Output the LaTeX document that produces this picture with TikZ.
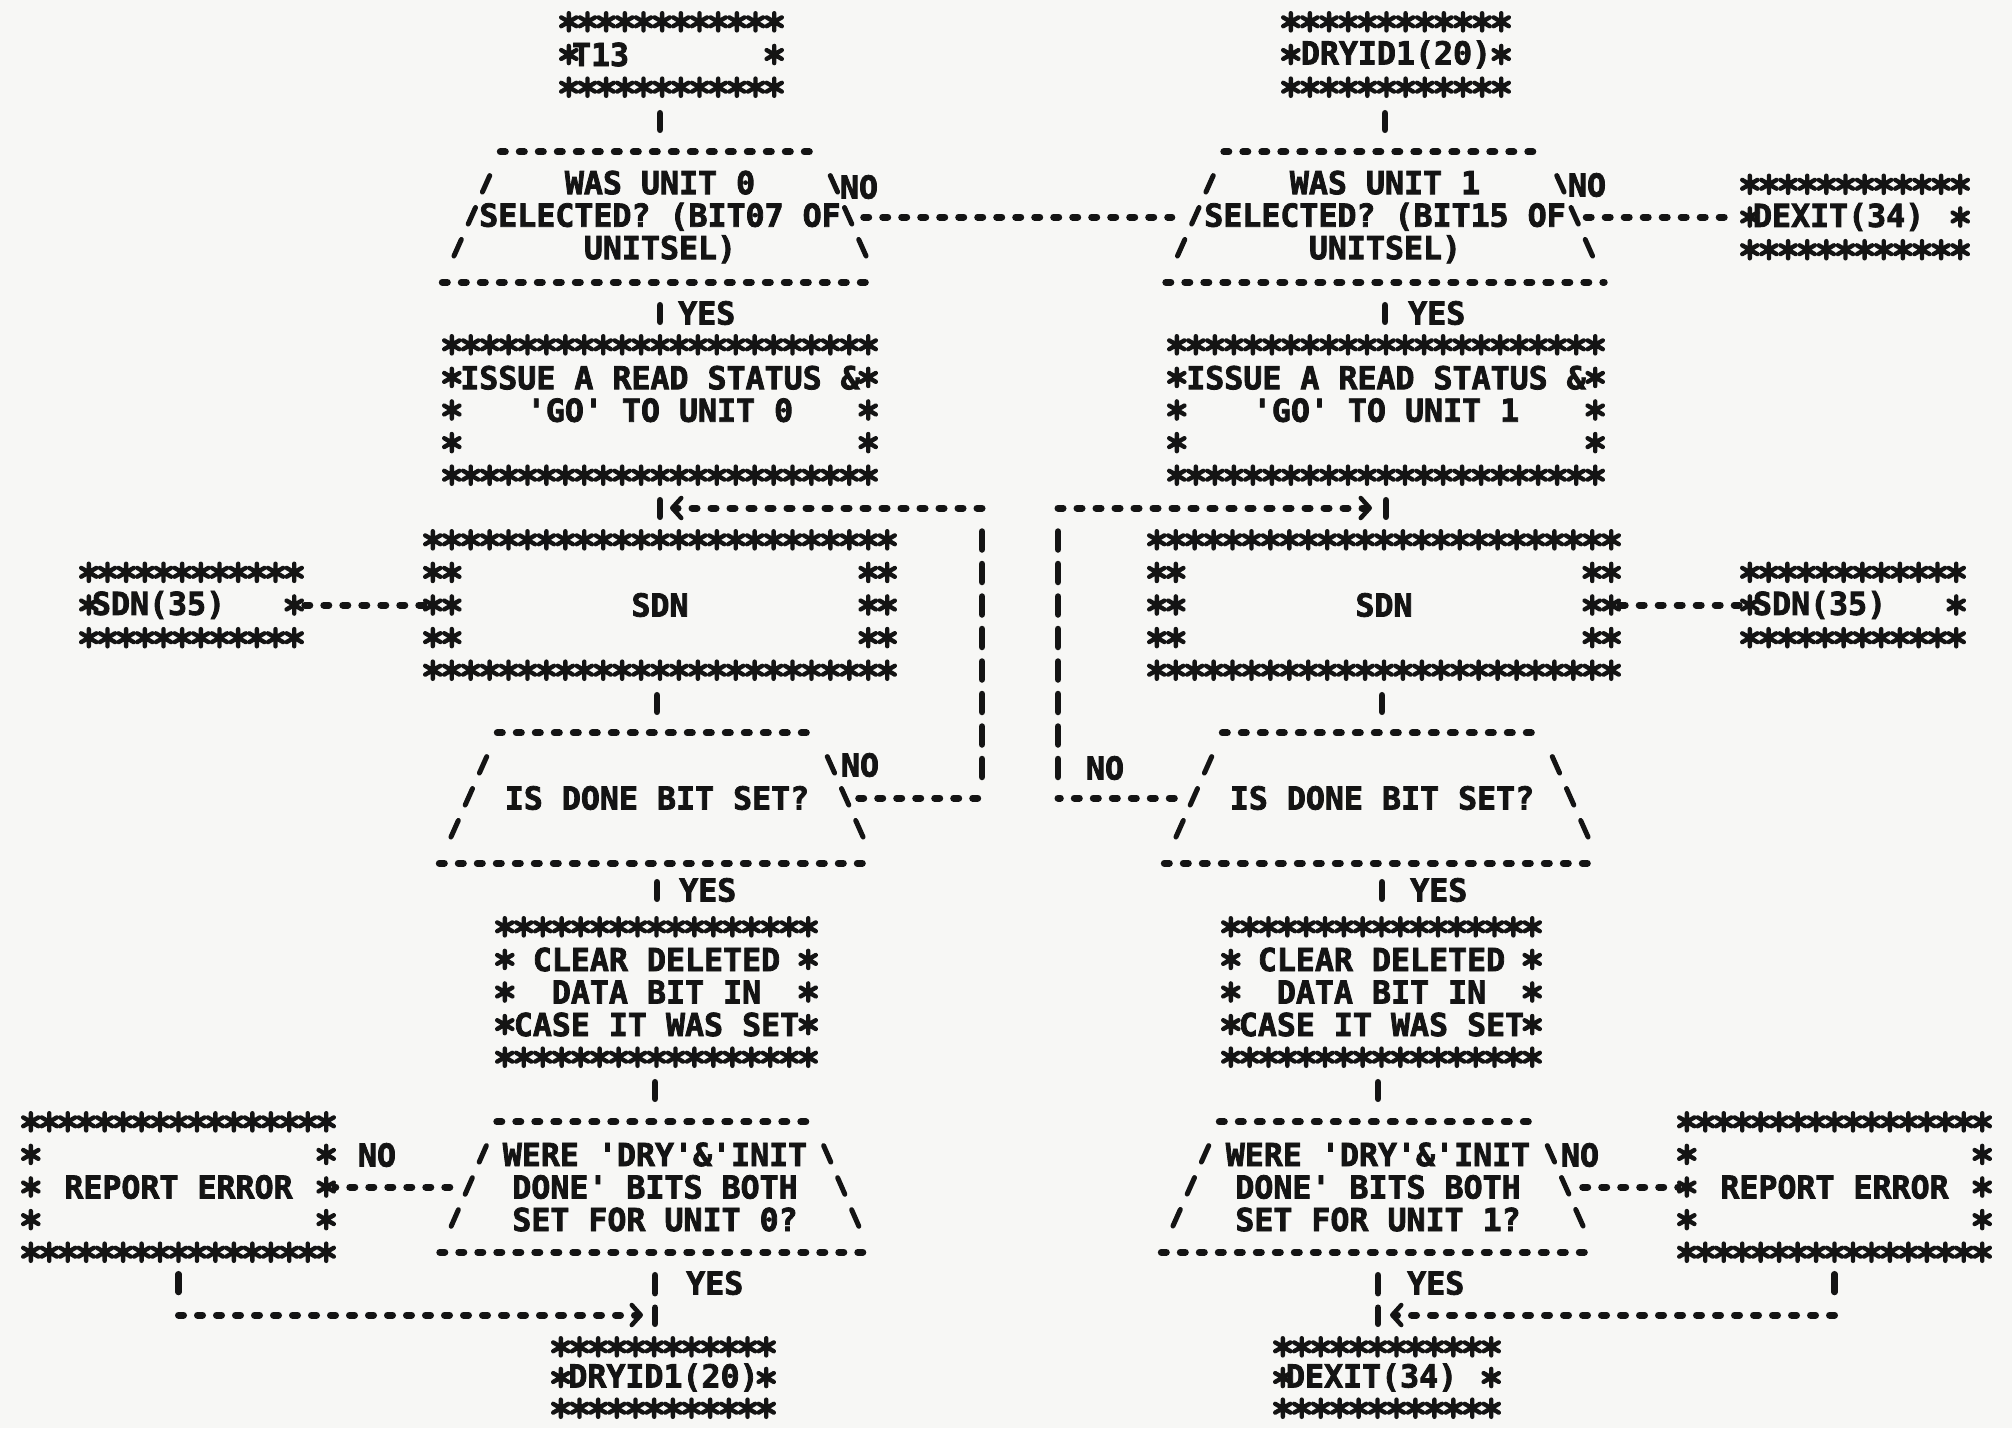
\documentclass[tikz,border=0pt]{standalone}
\usepackage{fontspec}
\setmonofont{DejaVu Sans Mono}[UprightFeatures={FakeBold=2.5}, BoldFeatures={FakeBold=2.5}]
\usetikzlibrary{calc,arrows.meta}
\definecolor{ink}{HTML}{141414}
\definecolor{paper}{HTML}{F7F7F5}
\tikzset{
  ast/.pic={\draw[ink, line width=4.4pt, line cap=round] (0,-8.6)--(0,8.6) (-7.6,-4.4)--(7.6,4.4) (-7.6,4.4)--(7.6,-4.4);},
  txt/.style={font=\fontsize{31.6}{32.5}\selectfont\ttfamily\bfseries, text=ink, inner sep=0pt},
  box/.style={txt, align=center},
  dec/.style={txt, align=center, minimum height=130pt},
  lbl/.style={txt},
  hd/.style={draw=ink, line width=7pt, line cap=round, dash pattern=on 5pt off 14pt},
  vd/.style={draw=ink, line width=6.5pt, line cap=round, dash pattern=on 18pt off 14.5pt},
  sl/.style={draw=ink, line width=5pt, line cap=round, dash pattern=on 18pt off 17pt, shorten <=26pt, shorten >=26pt},
  tip/.style={-{Straight Barb[length=9pt,width=20pt,line width=4.5pt,round]}},
}
\newcommand\astframe[4]{%
  \coordinate (#1-a) at ($(#1.north west)+(9,9)$);
  \coordinate (#1-b) at ($(#1.north east)+(-9,9)$);
  \coordinate (#1-c) at ($(#1.south west)+(9,-9)$);
  \coordinate (#1-d) at ($(#1.south east)+(-9,-9)$);
  \pgfmathtruncatemacro\astn{#2-1}%
  \pgfmathtruncatemacro\astr{#3-1}%
  \pgfmathtruncatemacro\astrr{#3-2}%
  \foreach \k in {0,...,\astn}{%
    \pic at ($(#1-a)!\k/\astn!(#1-b)$) {ast};
    \pic at ($(#1-c)!\k/\astn!(#1-d)$) {ast};
  }%
  \foreach \k in {1,...,\astrr}{%
    \pic at ($(#1-a)!\k/\astr!(#1-c)$) {ast};
    \pic at ($(#1-b)!\k/\astr!(#1-d)$) {ast};
    \ifnum#4=1
      \pic at ($(#1-a)!\k/\astr!(#1-c)+(19,0)$) {ast};
      \pic at ($(#1-b)!\k/\astr!(#1-d)+(-19,0)$) {ast};
    \fi
  }%
}
\newcommand\decframe[2]{%
  \draw[hd] ($(#1.north west)+(#2,0)$) -- ($(#1.north east)+(-#2,0)$);
  \draw[hd] (#1.south west) -- (#1.south east);
  \draw[sl] ($(#1.north west)+(#2,0)$) -- (#1.south west);
  \draw[sl] ($(#1.north east)+(-#2,0)$) -- (#1.south east);
}
\begin{document}
\begin{tikzpicture}[x=1pt,y=-1pt]
\fill[paper] (0,0) rectangle (2012,1428);
\useasboundingbox (0,0) rectangle (2012,1428);

% ---------- left column ----------
\node[box, minimum width=223pt, minimum height=83pt, text width=199pt, align=left] (t13) at (671.5,54.5) {T13};
\node[dec, minimum width=435pt] (d1) at (660,217) {WAS UNIT 0\\SELECTED? (BIT07 OF\\UNITSEL)};
\node[box, minimum width=434pt, minimum height=148pt] (iss1) at (660,410) {ISSUE A READ STATUS \&\\'GO' TO UNIT 0\\\mbox{}};
\node[box, minimum width=472pt, minimum height=148pt] (sdn1) at (660,605) {SDN};
\node[box, minimum width=223pt, minimum height=83pt, text width=199pt, align=left] (sdnL) at (191.5,605) {SDN(35)};
\node[dec, minimum width=435pt] (d3) at (657,798) {IS DONE BIT SET?};
\node[box, minimum width=321pt, minimum height=148pt] (clr1) at (656.5,992) {CLEAR DELETED\\DATA BIT IN\\CASE IT WAS SET};
\node[dec, minimum width=430pt] (d5) at (655,1187) {WERE 'DRY'\&'INIT\\DONE' BITS BOTH\\SET FOR UNIT 0?};
\node[box, minimum width=313pt, minimum height=148pt] (rep1) at (178.5,1187) {REPORT ERROR};
\node[box, minimum width=223pt, minimum height=79pt] (dry2) at (663.5,1377.5) {DRYID1(20)};

% ---------- right column ----------
\node[box, minimum width=228pt, minimum height=83pt] (dry1) at (1396,54.5) {DRYID1(20)};
\node[dec, minimum width=438pt] (d2) at (1385,217) {WAS UNIT 1\\SELECTED? (BIT15 OF\\UNITSEL)};
\node[box, minimum width=228pt, minimum height=83pt, text width=204pt, align=left] (dex1) at (1855,217) {DEXIT(34)};
\node[box, minimum width=436pt, minimum height=148pt] (iss2) at (1386,410) {ISSUE A READ STATUS \&\\'GO' TO UNIT 1\\\mbox{}};
\node[box, minimum width=472pt, minimum height=148pt] (sdn2) at (1384,605) {SDN};
\node[box, minimum width=224pt, minimum height=83pt, text width=200pt, align=left] (sdnR) at (1853,605) {SDN(35)};
\node[dec, minimum width=435pt] (d4) at (1382,798) {IS DONE BIT SET?};
\node[box, minimum width=319pt, minimum height=148pt] (clr2) at (1381.5,992) {CLEAR DELETED\\DATA BIT IN\\CASE IT WAS SET};
\node[dec, minimum width=433pt] (d6) at (1378,1187) {WERE 'DRY'\&'INIT\\DONE' BITS BOTH\\SET FOR UNIT 1?};
\node[box, minimum width=313pt, minimum height=148pt] (rep2) at (1834.5,1187) {REPORT ERROR};
\node[box, minimum width=226pt, minimum height=79pt, text width=202pt, align=left] (dex2) at (1387,1377.5) {DEXIT(34)};

% ---------- frames ----------
\astframe{t13}{12}{3}{0}
\astframe{iss1}{23}{5}{0}
\astframe{sdn1}{25}{5}{1}
\astframe{sdnL}{12}{3}{0}
\astframe{clr1}{17}{5}{0}
\astframe{rep1}{17}{5}{0}
\astframe{dry2}{12}{3}{0}
\astframe{dry1}{12}{3}{0}
\astframe{dex1}{12}{3}{0}
\astframe{iss2}{23}{5}{0}
\astframe{sdn2}{25}{5}{1}
\astframe{sdnR}{12}{3}{0}
\astframe{clr2}{17}{5}{0}
\astframe{rep2}{17}{5}{0}
\astframe{dex2}{12}{3}{0}
\decframe{d1}{58}
\decframe{d2}{58}
\decframe{d3}{58}
\decframe{d4}{58}
\decframe{d5}{57}
\decframe{d6}{58}

% ---------- labels ----------
\node[lbl] (no1) at (859,187) {NO};
\node[lbl, anchor=west] (yes1) at (678,313) {YES};
\node[lbl] (no2) at (1587,185) {NO};
\node[lbl, anchor=west] (yes2) at (1408,313) {YES};
\node[lbl] (no3) at (860,765) {NO};
\node[lbl, anchor=west] (yes3) at (679,890) {YES};
\node[lbl] (no4) at (1105,768) {NO};
\node[lbl, anchor=west] (yes4) at (1410,890) {YES};
\node[lbl] (no5) at (377,1155) {NO};
\node[lbl, anchor=west] (yes5) at (686,1283) {YES};
\node[lbl] (no6) at (1580,1155) {NO};
\node[lbl, anchor=west] (yes6) at (1407,1283) {YES};

% ---------- coordinates ----------
\coordinate (m1) at (660,508);
\coordinate (c1) at (982,508);
\coordinate (c3) at (982,798);
\coordinate (m2) at (1384,508);
\coordinate (c2) at (1058,508);
\coordinate (c4) at (1058,798);
\coordinate (m3) at (655,1315);
\coordinate (c5) at (rep1.south |- m3);
\coordinate (m4) at (1378,1315);
\coordinate (c6) at (rep2.south |- m4);

% ---------- left flow ----------
\draw[vd, shorten <=17pt, shorten >=22pt] (d1.north |- t13.south) -- (d1.north);
\draw[vd, shorten <=23pt, shorten >=14pt] (d1.south) -- (d1.south |- iss1.north);
\draw[vd, shorten <=16pt, shorten >=14pt] (iss1.south) -- (iss1.south |- sdn1.north);
\draw[vd, shorten <=16pt, shorten >=21pt] (d3.north |- sdn1.south) -- (d3.north);
\draw[vd, shorten <=19pt, shorten >=19pt] (d3.south) -- (d3.south |- clr1.north);
\draw[vd, shorten <=16pt, shorten >=23pt] (d5.north |- clr1.south) -- (d5.north);
\draw[vd, shorten <=23pt, shorten >=14pt] (d5.south) -- (d5.south |- dry2.north);
\draw[hd] ($(d1.east)+(-14,0)$) -- ($(d2.west)+(6,0)$);
\draw[hd] (sdn1.west) -- (sdnL.east);
\draw[hd] ($(d3.east)+(-16,0)$) -- (c3);
\draw[vd, shorten <=21pt, shorten >=21pt] (c3) -- (c1);
\draw[hd, tip, shorten >=10pt] (c1) -- (m1);
\draw[hd] ($(d5.west)+(10,0)$) -- (rep1.east);
\draw[vd, shorten <=13pt, shorten >=23pt] (rep1.south) -- (c5);
\draw[hd, tip, shorten >=12pt] (c5) -- (m3);

% ---------- right flow ----------
\draw[vd, shorten <=17pt, shorten >=22pt] (d2.north |- dry1.south) -- (d2.north);
\draw[vd, shorten <=23pt, shorten >=14pt] (d2.south) -- (d2.south |- iss2.north);
\draw[vd, shorten <=16pt, shorten >=14pt] (iss2.south) -- (iss2.south |- sdn2.north);
\draw[vd, shorten <=16pt, shorten >=21pt] (d4.north |- sdn2.south) -- (d4.north);
\draw[vd, shorten <=19pt, shorten >=19pt] (d4.south) -- (d4.south |- clr2.north);
\draw[vd, shorten <=16pt, shorten >=23pt] (d6.north |- clr2.south) -- (d6.north);
\draw[vd, shorten <=23pt, shorten >=14pt] (d6.south) -- (d6.south |- dex2.north);
\draw[hd, shorten >=4pt] ($(d2.east)+(-18,0)$) -- (dex1.west);
\draw[hd] (sdn2.east) -- (sdnR.west);
\draw[hd] ($(d4.west)+(10,0)$) -- (c4);
\draw[vd, shorten <=21pt, shorten >=21pt] (c4) -- (c2);
\draw[hd, tip, shorten >=12pt] (c2) -- (m2);
\draw[hd] ($(d6.east)+(-12,0)$) -- (rep2.west);
\draw[vd, shorten <=13pt, shorten >=23pt] (rep2.south) -- (c6);
\draw[hd, tip, shorten >=12pt] (c6) -- (m4);
\end{tikzpicture}
\end{document}
